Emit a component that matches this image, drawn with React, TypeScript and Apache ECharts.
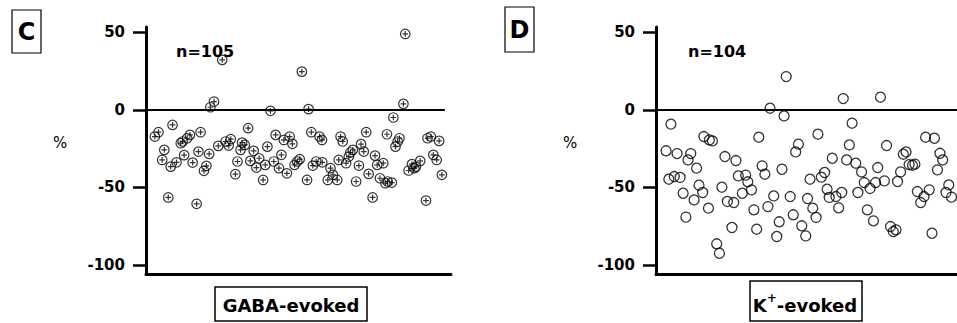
import React, { useEffect, useRef } from "react";
import * as echarts from "echarts";

// Panel C (GABA-evoked): cell position along the axis (0-100) and % change
const gabaX = [2.9, 4.1, 5.3, 6.0, 7.3, 8.1, 8.7, 10.0, 11.4, 12.0, 12.5, 13.5, 14.4, 15.3, 16.6, 17.2, 17.9, 19.0, 19.8, 20.7, 21.1, 22.3, 23.7, 25.0, 26.1, 27.1, 27.8, 29.3, 30.0, 31.0, 31.5, 32.4, 33.5, 34.2, 35.3, 36.2, 37.1, 38.4, 39.1, 39.8, 40.8, 41.9, 42.5, 43.6, 44.4, 45.2, 46.2, 47.1, 48.0, 48.7, 49.6, 50.4, 51.1, 52.8, 53.3, 54.2, 54.7, 55.8, 56.9, 57.7, 57.8, 59.6, 60.5, 61.3, 62.7, 63.2, 63.8, 64.5, 65.6, 66.5, 67.0, 67.8, 68.9, 69.8, 70.5, 71.4, 72.2, 73.0, 74.3, 75.1, 75.8, 76.7, 77.8, 78.5, 79.0, 79.2, 80.6, 81.1, 81.8, 82.5, 83.1, 84.4, 85.0, 86.1, 87.2, 88.0, 88.5, 89.9, 91.8, 92.3, 93.4, 94.2, 95.3, 96.1, 97.0];
const gabaY = [-17.2, -14.4, -32.3, -25.8, -56.5, -36.6, -9.7, -33.8, -21.5, -20.4, -29.2, -18.3, -16.1, -34.0, -60.6, -26.9, -14.4, -39.3, -36.1, -28.4, 1.7, 5.4, -23.2, 32.3, -20.4, -23.0, -18.9, -41.5, -33.3, -25.8, -21.1, -22.6, -11.8, -32.9, -26.4, -37.2, -31.2, -45.2, -35.5, -23.7, -0.6, -33.3, -16.1, -37.6, -29.0, -19.4, -40.9, -17.2, -21.9, -35.5, -33.3, -31.8, 24.7, -45.2, 0.5, -14.4, -35.9, -33.3, -17.2, -19.4, -33.8, -45.2, -37.6, -41.9, -45.2, -32.3, -17.2, -20.4, -34.4, -30.1, -27.5, -25.8, -46.2, -35.9, -22.1, -26.9, -14.4, -41.3, -56.5, -29.5, -35.5, -44.1, -34.4, -47.3, -15.7, -46.2, -46.9, -4.9, -23.7, -20.4, -18.3, 3.9, 49.0, -39.1, -35.0, -37.6, -36.6, -32.9, -58.5, -18.3, -17.2, -29.0, -32.3, -20.0, -41.9];

// Panel D (K+-evoked)
const kX = [3.3, 4.2, 4.9, 6.0, 6.9, 7.9, 8.9, 9.8, 10.5, 11.4, 12.5, 13.3, 14.1, 15.3, 15.7, 17.2, 17.5, 18.5, 19.9, 20.8, 21.6, 22.6, 23.4, 24.9, 25.5, 26.2, 27.0, 28.3, 29.4, 30.1, 31.3, 32.1, 33.0, 33.7, 34.8, 35.7, 36.7, 37.4, 38.6, 39.6, 40.4, 41.3, 42.0, 42.7, 44.0, 45.0, 45.8, 46.7, 47.8, 49.1, 49.7, 50.5, 51.4, 52.5, 53.1, 54.2, 55.3, 56.1, 56.8, 57.8, 59.0, 59.9, 60.9, 61.4, 62.5, 63.4, 64.3, 65.5, 66.2, 67.4, 68.3, 69.3, 70.2, 71.3, 72.0, 72.7, 73.6, 74.9, 75.6, 76.9, 77.8, 78.7, 79.2, 80.2, 81.1, 82.0, 83.0, 84.1, 84.9, 85.7, 86.8, 87.9, 88.4, 89.6, 90.5, 91.3, 92.3, 93.1, 94.0, 95.1, 96.0, 96.9];
const kY = [-26.4, -44.7, -9.2, -43.0, -28.2, -43.6, -53.8, -69.2, -32.3, -28.2, -58.1, -37.6, -48.6, -53.3, -17.2, -63.4, -19.4, -20.0, -86.4, -92.5, -49.9, -30.1, -59.1, -75.9, -59.8, -32.7, -42.6, -53.8, -42.1, -46.4, -51.6, -64.5, -77.0, -17.6, -36.1, -41.5, -62.4, 1.1, -55.5, -81.7, -72.2, -38.3, -3.9, 21.5, -55.9, -67.7, -27.1, -22.1, -74.8, -81.3, -57.2, -44.7, -63.4, -69.4, -15.7, -43.4, -40.4, -51.2, -56.5, -31.2, -55.9, -63.2, -53.3, 7.3, -32.3, -22.6, -8.6, -34.4, -53.3, -40.0, -46.9, -64.5, -50.7, -71.6, -46.9, -37.2, 8.2, -45.8, -23.0, -75.3, -78.5, -77.4, -46.2, -40.0, -28.6, -27.1, -35.3, -35.7, -35.0, -52.7, -59.8, -55.9, -17.6, -51.6, -79.6, -18.3, -38.7, -28.0, -32.3, -53.3, -48.4, -56.3];

const yTicks = [-100, -50, 0, 50];
const yMin = -105.9;
const yMax = 53.5;

const FONT = "DejaVu Sans";

function makeXAxis(gridIndex: number, max: number) {
  return {
    type: "value" as const,
    gridIndex,
    min: 0,
    max,
    axisLine: { show: true, onZero: false, lineStyle: { color: "#000", width: 3 } },
    axisTick: { show: false },
    axisLabel: { show: false },
    splitLine: { show: false },
  };
}

function makeYAxis(gridIndex: number) {
  return {
    type: "value" as const,
    gridIndex,
    min: yMin,
    max: yMax,
    axisLine: { show: true, onZero: false, lineStyle: { color: "#000", width: 3 } },
    axisTick: {
      show: true,
      length: 13,
      customValues: yTicks,
      lineStyle: { color: "#000", width: 2.5 },
    },
    axisLabel: {
      show: true,
      customValues: yTicks,
      margin: 21,
      color: "#000",
      fontFamily: FONT,
      fontWeight: "bold" as const,
      fontSize: 15,
    },
    splitLine: { show: false },
  };
}

export default function App() {
  const ref = useRef<HTMLDivElement>(null);

  useEffect(() => {
    document.body.style.margin = "0";
    if (!ref.current) return;
    const chart = echarts.init(ref.current, undefined, { renderer: "svg" });

    const gabaData = gabaX.map((x, i) => [x, gabaY[i]]);
    const kData = kX.map((x, i) => [x, kY[i]]);

    const plusCircle =
      "path://M0,10A10,10,0,1,0,20,10A10,10,0,1,0,0,10ZM10,4L10,16M4,10L16,10";

    chart.setOption({
      animation: false,
      backgroundColor: "#fff",
      grid: [
        { left: 146, top: 27, width: 305, height: 247 },
        { left: 656, top: 27, right: 0, height: 247 },
      ],
      xAxis: [makeXAxis(0, 100), makeXAxis(1, 98.7)],
      yAxis: [makeYAxis(0), makeYAxis(1)],
      series: [
        {
          type: "scatter",
          xAxisIndex: 0,
          yAxisIndex: 0,
          data: gabaData,
          symbol: plusCircle,
          symbolSize: 9.5,
          itemStyle: { color: "rgba(0,0,0,0)", borderColor: "#000", borderWidth: 1.2 },
          markLine: {
            silent: true,
            symbol: "none",
            label: { show: false },
            lineStyle: { color: "#000", width: 2, type: "solid" },
            data: [[{ coord: [0, 0] }, { coord: [98, 0] }]],
          },
        },
        {
          type: "scatter",
          xAxisIndex: 1,
          yAxisIndex: 1,
          data: kData,
          symbol: "circle",
          symbolSize: 10,
          itemStyle: { color: "rgba(0,0,0,0)", borderColor: "#000", borderWidth: 1.3 },
          markLine: {
            silent: true,
            symbol: "none",
            label: { show: false },
            lineStyle: { color: "#000", width: 2, type: "solid" },
            data: [[{ coord: [0, 0] }, { coord: [98.7, 0] }]],
          },
        },
      ],
      graphic: [
        { type: "rect", shape: { x: 12, y: 10, width: 29, height: 43 }, style: { fill: "none", stroke: "#000", lineWidth: 1.2 } },
        { type: "text", x: 26.5, y: 32, style: { text: "C", font: `bold 24px ${FONT}`, align: "center", verticalAlign: "middle", fill: "#000" } },
        { type: "rect", shape: { x: 505, y: 7, width: 29, height: 45 }, style: { fill: "none", stroke: "#000", lineWidth: 1.2 } },
        { type: "text", x: 519.5, y: 30, style: { text: "D", font: `bold 24px ${FONT}`, align: "center", verticalAlign: "middle", fill: "#000" } },
        { type: "text", x: 60, y: 143, style: { text: "%", font: `15px ${FONT}`, align: "center", verticalAlign: "middle", fill: "#000" } },
        { type: "text", x: 570, y: 143, style: { text: "%", font: `15px ${FONT}`, align: "center", verticalAlign: "middle", fill: "#000" } },
        { type: "text", x: 176, y: 51, style: { text: "n=105", font: `bold 16px ${FONT}`, align: "left", verticalAlign: "middle", fill: "#000" } },
        { type: "text", x: 688, y: 51, style: { text: "n=104", font: `bold 16px ${FONT}`, align: "left", verticalAlign: "middle", fill: "#000" } },
        { type: "rect", shape: { x: 215, y: 287, width: 152, height: 34 }, style: { fill: "none", stroke: "#000", lineWidth: 1.5 } },
        { type: "text", x: 291, y: 305, style: { text: "GABA-evoked", font: `bold 18px ${FONT}`, align: "center", verticalAlign: "middle", fill: "#000" } },
        { type: "rect", shape: { x: 750, y: 281, width: 112, height: 40 }, style: { fill: "none", stroke: "#000", lineWidth: 1.5 } },
        {
          type: "text",
          x: 805,
          y: 303,
          style: {
            text: "{a|K}{s|+}{a|-evoked}",
            align: "center",
            verticalAlign: "middle",
            fill: "#000",
            rich: {
              a: { font: `bold 18px ${FONT}`, fill: "#000", lineHeight: 22, verticalAlign: "bottom" },
              s: { font: `bold 12px ${FONT}`, fill: "#000", lineHeight: 22, verticalAlign: "top" },
            },
          },
        },
      ],
    });

    return () => chart.dispose();
  }, []);

  return <div ref={ref} style={{ width: 957, height: 323 }} />;
}
